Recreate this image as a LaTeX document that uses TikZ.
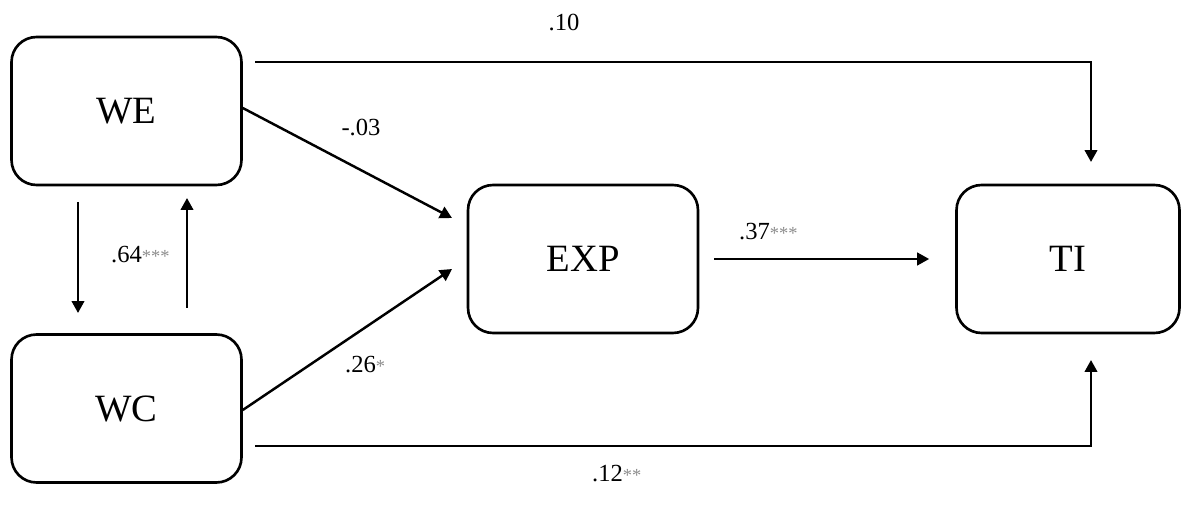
\documentclass[tikz,border=0pt]{standalone}
\usepackage{fontspec}
\setmainfont{Liberation Serif}
\usetikzlibrary{arrows.meta}

\newcommand{\stars}[1]{{\color{gray!90}\fontsize{10.5}{10.5}\selectfont #1}}

\begin{document}
\begin{tikzpicture}
    [
    x = 0.02cm, y = -0.02cm,
    every node/.style = {font=\fontsize{14}{14}\selectfont},
    var/.style        = {draw, line width=1.5pt, rounded corners=0.5cm,
                         minimum width=4.6cm, minimum height=2.96cm,
                         font=\fontsize{22}{22}\selectfont},
    path/.style       = {line width=1.4pt, -{Triangle[length=0.24cm,width=0.25cm]}},
    coef/.style       = {inner sep=1pt}
    ]
    \useasboundingbox (0,0) rectangle (1187,513);

    % variables
    \node [var] (WE)  at (126.5,111)   {WE};
    \node [var] (WC)  at (126.5,408.5) {WC};
    \node [var] (EXP) at (583,259)     {EXP};
    \node [var, minimum width=4.46cm] (TI) at (1068,259) {TI};

    % loose ends
    \coordinate (topL) at (255,62);
    \coordinate (topR) at (1091,162);
    \coordinate (botL) at (255,446);
    \coordinate (botR) at (1091,360);
    \coordinate (weIn) at (452,218);
    \coordinate (wcIn) at (452,269);
    \coordinate (dnA)  at (78,202);
    \coordinate (dnB)  at (78,313);
    \coordinate (upA)  at (187,308);
    \coordinate (upB)  at (187,198);

    % paths
    \draw [path] (topL) -| (topR);
    \draw [path] (botL) -| (botR);
    \draw [path] ([yshift=0.06cm]WE.east) -- (weIn);
    \draw [path] ([yshift=-0.03cm]WC.east) -- (wcIn);
    \draw [path, shorten <=0.3cm, shorten >=0.52cm] (EXP.east) -- (TI.west);
    \draw [path] (dnA) -- (dnB);
    \draw [path] (upA) -- (upB);

    % coefficients
    \node [coef] (c10) at (564,22)  {.10};
    \node [coef] (c03) at (361,127) {-.03};
    \node [coef, anchor=west] (c26) at (343,365) {.26\stars{*}};
    \node [coef, anchor=west] (c64) at (109,255) {.64\stars{***}};
    \node [coef, anchor=west] (c37) at (737,232) {.37\stars{***}};
    \node [coef, anchor=west] (c12) at (590,474) {.12\stars{**}};
\end{tikzpicture}
\end{document}
